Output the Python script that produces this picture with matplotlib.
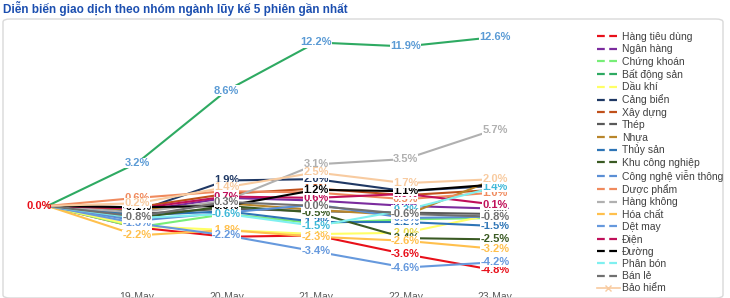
import numpy as np
import matplotlib
matplotlib.use('Agg')
import matplotlib.pyplot as plt
from matplotlib.lines import Line2D
from matplotlib.patches import FancyBboxPatch

plt.rcParams['font.family'] = ['Liberation Sans', 'DejaVu Sans']

title = 'Diễn biến giao dịch theo nhóm ngành lũy kế 5 phiên gần nhất'
days = ['', '19-May', '20-May', '21-May', '22-May', '23-May']

names = ['Hàng tiêu dùng', 'Ngân hàng', 'Chứng khoán', 'Bất động sản', 'Dầu khí',
         'Cảng biển', 'Xây dựng', 'Thép', 'Nhựa', 'Thủy sản', 'Khu công nghiệp',
         'Công nghệ viễn thông', 'Dược phẩm', 'Hàng không', 'Hóa chất', 'Dệt may',
         'Điện', 'Đường', 'Phân bón', 'Bán lẻ', 'Bảo hiểm']

hang_tieu_dung = [0, -1.6, -2.3, -2.2, -3.6, -4.8]
ngan_hang = [0, -0.4, 0.6, 0.4, 0.0, -0.2]
chung_khoan = [0, -1.6, -0.6, -1.3, -1.0, -0.9]
bat_dong_san = [0, 3.2, 8.6, 12.2, 11.9, 12.6]
dau_khi = [0, -1.5, -1.8, -2.1, -2.0, -0.6]
cang_bien = [0, -0.4, 1.9, 2.0, 1.1, 1.5]
xay_dung = [0, -0.1, 0.9, 1.3, 0.8, 1.2]
thep = [0, -0.6, -0.2, -0.4, -0.5, -0.6]
nhua = [0, -0.3, 0.2, -0.3, -0.7, 2.0]
thuy_san = [0, -0.7, -0.4, -1.2, -1.2, -1.5]
khu_cong_nghiep = [0, -0.9, 0.0, -0.5, -2.4, -2.5]
cong_nghe_vien_thong = [0, -1.1, -0.5, 0.1, -0.9, -0.8]
duoc_pham = [0, 0.6, 1.1, 1.0, 0.5, 1.0]
hang_khong = [0, -0.5, 0.4, 3.1, 3.5, 5.7]
hoa_chat = [0, -2.2, -1.8, -2.3, -2.6, -3.2]
det_may = [0, -1.3, -2.2, -3.4, -4.6, -4.2]
dien = [0, -0.2, 0.7, 0.6, 0.9, 0.1]
duong = [0, -0.1, 0.0, 1.2, 1.1, 1.6]
phan_bon = [0, -0.9, -0.6, -1.5, -0.3, 1.4]
ban_le = [0, -0.8, 0.3, 0.0, -0.6, -0.8]
bao_hiem = [0, 0.2, 1.4, 2.5, 1.7, 2.0]

series = [hang_tieu_dung, ngan_hang, chung_khoan, bat_dong_san, dau_khi,
          cang_bien, xay_dung, thep, nhua, thuy_san, khu_cong_nghiep,
          cong_nghe_vien_thong, duoc_pham, hang_khong, hoa_chat, det_may,
          dien, duong, phan_bon, ban_le, bao_hiem]

colors = ['#e8101a', '#7b2c9e', '#77ee77', '#2eaa62', '#ffff66',
          '#1f3864', '#c0501a', '#595959', '#b8862b', '#2e75b6', '#3a5a23',
          '#5b8fd5', '#f08a5d', '#b0b0b0', '#ffc04d', '#6699dd',
          '#c0105a', '#000000', '#7ff0f0', '#707070', '#f8cba0']
label_colors = list(colors)
label_colors[3] = '#5b9bd5'
label_colors[4] = '#e8d84a'
label_colors[18] = '#3fb8d8'

fig = plt.figure(figsize=(7.3, 2.98), dpi=100)
W, H = 730, 298

# frame around the chart
fig.patches.append(FancyBboxPatch((3 / W, 0.0), 720 / W, (H - 19) / H,
                                  boxstyle='round,pad=0,rounding_size=0.01',
                                  transform=fig.transFigure, fill=False,
                                  edgecolor='#d9d9d9', linewidth=1.0))

fig.text(3 / W, 1 - 8 / H, title, fontsize=8.5, fontweight='bold',
         color='#1c4fb0', va='center', ha='left')

ax = fig.add_axes([20 / W, 13 / H, 540 / W, 260 / H])
x = np.arange(len(days))
for i, (vals, c, lc) in enumerate(zip(series, colors, label_colors)):
    ax.plot(x, vals, color=c, lw=1.5, zorder=2 + 2 * i, solid_joinstyle='round')
    for xi, v in zip(x[1:], vals[1:]):
        ax.text(xi, v, f'{v:.1f}%', color=lc, fontsize=8, fontweight='bold',
                ha='center', va='center', zorder=3 + 2 * i,
                bbox=dict(boxstyle='square,pad=0.02', fc='white', ec='none'))

ax.annotate('0.0%', (0, 0), xytext=(-6, 0), textcoords='offset points',
            color='#e8101a', fontsize=8, fontweight='bold', ha='center', va='center',
            zorder=60)

ax.set_xticks(x, days)
ax.tick_params(axis='x', length=0, labelsize=7.5, labelcolor='#595959', pad=5)
ax.set_yticks([])
ax.set_xlim(-0.307, 5.726)
ax.set_ylim(-5.9, 13.5)
for s in ax.spines.values():
    s.set_visible(False)

handles = []
for n, c in zip(names, colors):
    if n == 'Bảo hiểm':
        handles.append(Line2D([], [], color=c, lw=1.2, marker='x', markersize=5))
    else:
        handles.append(Line2D([], [], color=c, lw=1.6, linestyle=(0, (3.5, 2))))
fig.legend(handles, names, loc='upper left', bbox_to_anchor=(597 / W, 1 - 32 / H),
           frameon=False, fontsize=7.5, labelcolor='#404040', handlelength=2.2,
           handletextpad=0.2, labelspacing=0.22, borderaxespad=0, borderpad=0)

plt.savefig('out.png', dpi=100)
